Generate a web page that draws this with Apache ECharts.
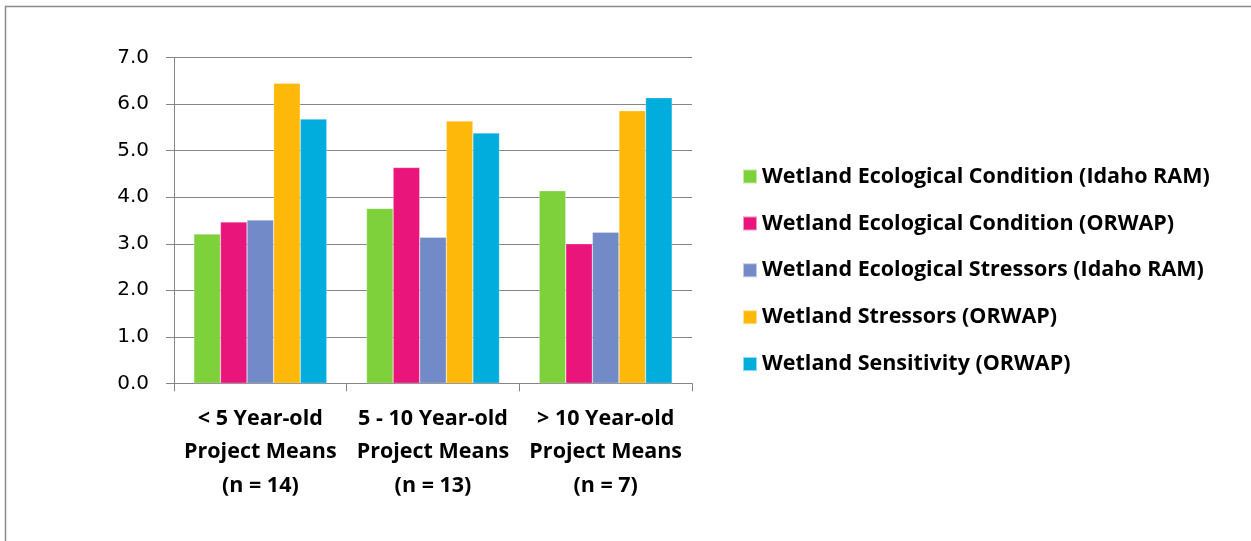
<!DOCTYPE html>
<html>
<head>
<meta charset="utf-8">
<title>Wetland condition by project age</title>
<script src="https://cdn.jsdelivr.net/npm/echarts@6/dist/echarts.min.js"></script>
<style>
  html, body { margin: 0; padding: 0; background: #fff; }
  #chart { width: 1251px; height: 541px; }
</style>
</head>
<body>
<div id="chart"></div>
<script>
// Project age groups (x axis)
const categories = [
  '< 5 Year-old\nProject Means\n(n = 14)',
  '5 - 10 Year-old\nProject Means\n(n = 13)',
  '> 10 Year-old\nProject Means\n(n = 7)'
];

// Mean scores per age group
const condIdahoRam    = [3.21, 3.76, 4.14];
const condOrwap       = [3.47, 4.64, 3.00];
const stressIdahoRam  = [3.51, 3.14, 3.25];
const stressOrwap     = [6.45, 5.64, 5.86];
const sensitivityOrwap = [5.68, 5.38, 6.14];

const seriesNames = [
  'Wetland Ecological Condition (Idaho RAM)',
  'Wetland Ecological Condition (ORWAP)',
  'Wetland Ecological Stressors (Idaho RAM)',
  'Wetland Stressors (ORWAP)',
  'Wetland Sensitivity (ORWAP)'
];
const seriesValues = [condIdahoRam, condOrwap, stressIdahoRam, stressOrwap, sensitivityOrwap];
const seriesColors = ['#7FD13B', '#EA157A', '#738AC8', '#FEB80A', '#00ADDC'];

// Value axis ticks
const yMin = 0, yMax = 7, yStep = 1;

const axisGray = '#868686';
const boldFont = '"Open Sans", Lato, sans-serif';

const chart = echarts.init(document.getElementById('chart'), null, { renderer: 'canvas' });

chart.setOption({
  animation: false,
  backgroundColor: '#ffffff',
  graphic: [{
    type: 'rect',
    silent: true,
    shape: { x: 5.5, y: 6.5, width: 1400, height: 700 },
    style: { fill: 'none', stroke: '#8a8a8a', lineWidth: 1.5 }
  }],
  grid: { left: 174, right: 559, top: 57.7, bottom: 157.7 },
  legend: {
    orient: 'vertical',
    left: 742,
    top: 165.5,
    padding: 0,
    itemWidth: 14,
    itemHeight: 14,
    itemGap: 24.9,
    itemTextGap: 6,
    icon: 'rect',
    textStyle: {
      fontFamily: boldFont,
      fontWeight: 'bold',
      fontSize: 21.5,
      lineHeight: 21,
      color: '#000'
    },
    data: seriesNames
  },
  xAxis: {
    type: 'category',
    data: categories,
    axisLine: { lineStyle: { color: axisGray, width: 1 } },
    axisTick: { show: true, length: 8, alignWithLabel: false, lineStyle: { color: axisGray } },
    axisLabel: {
      margin: 18.5,
      interval: 0,
      fontFamily: boldFont,
      fontWeight: 'bold',
      fontSize: 21.5,
      lineHeight: 33.5,
      color: '#000'
    }
  },
  yAxis: {
    type: 'value',
    min: yMin,
    max: yMax,
    interval: yStep,
    axisLine: { show: true, lineStyle: { color: axisGray, width: 1 } },
    axisTick: { show: true, length: 8, lineStyle: { color: axisGray } },
    splitLine: { show: true, lineStyle: { color: axisGray, width: 1 } },
    axisLabel: {
      margin: 25,
      fontFamily: '"DejaVu Sans", sans-serif',
      fontSize: 20,
      color: '#000',
      formatter: v => v.toFixed(1)
    }
  },
  series: seriesNames.map((name, i) => ({
    name: name,
    type: 'bar',
    data: seriesValues[i],
    barGap: '0%',
    barCategoryGap: '23%',
    itemStyle: {
      color: seriesColors[i],
      borderColor: 'rgba(255,255,255,0.55)',
      borderWidth: 0.5
    }
  }))
});
</script>
</body>
</html>
